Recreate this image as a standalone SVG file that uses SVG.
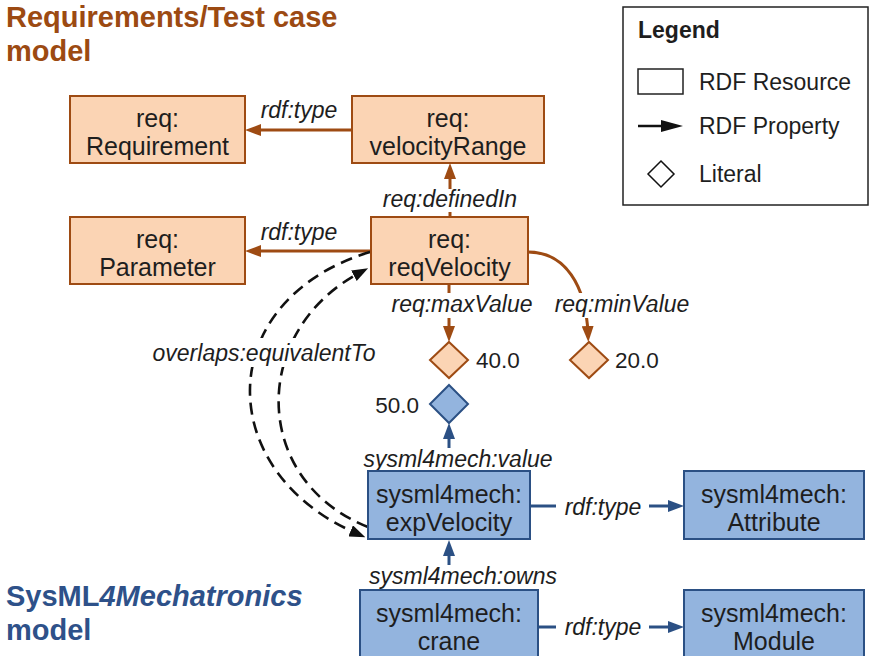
<svg xmlns="http://www.w3.org/2000/svg" width="870" height="656" viewBox="0 0 870 656">
<style>
text{font-family:"Liberation Sans",Arial,sans-serif;fill:#1e1e1e}
.nt{font-size:25px;text-anchor:middle}
.el{font-size:23px;font-style:italic;text-anchor:middle}
.lit{font-size:22.5px}
.ttl{font-size:29px;font-weight:bold}
.or{fill:#FBD4B4;stroke:#9E4B13;stroke-width:2}
.bl{fill:#93B4DE;stroke:#2B5084;stroke-width:2}
.oe{fill:none;stroke:#9E4B13;stroke-width:3}
.be{fill:none;stroke:#2B5084;stroke-width:3}
.de{fill:none;stroke:#111;stroke-width:2.6;stroke-dasharray:12 7}
.lg{font-size:23px}
</style>
<defs>
<marker id="ao" viewBox="0 0 16 12" markerWidth="16" markerHeight="12" refX="8" refY="6" orient="auto" markerUnits="userSpaceOnUse"><path d="M0,0 L16,6 L0,12 z" fill="#9E4B13"/></marker>
<marker id="ab" viewBox="0 0 16 12" markerWidth="16" markerHeight="12" refX="8" refY="6" orient="auto" markerUnits="userSpaceOnUse"><path d="M0,0 L16,6 L0,12 z" fill="#2B5084"/></marker>
<marker id="ak" viewBox="0 0 16 12" markerWidth="16" markerHeight="12" refX="8" refY="6" orient="auto" markerUnits="userSpaceOnUse"><path d="M0,0 L16,6 L0,12 z" fill="#111"/></marker>
<marker id="al" viewBox="0 0 22 12" markerWidth="22" markerHeight="12" refX="8" refY="6" orient="auto" markerUnits="userSpaceOnUse"><path d="M0,0 L22,6 L0,12 z" fill="#111"/></marker>
</defs>

<text class="ttl" x="6" y="27" style="fill:#9C4A12">Requirements/Test case</text>
<text class="ttl" x="6" y="61" style="fill:#9C4A12">model</text>
<text class="ttl" x="6" y="606" style="fill:#2E5189">SysML<tspan font-style="italic">4Mechatronics</tspan></text>
<text class="ttl" x="6" y="640" style="fill:#2E5189">model</text>

<g id="connectors">
<path class="oe" d="M352,130 L253,130" marker-end="url(#ao)"/>
<path class="oe" d="M371,251 L253,251" marker-end="url(#ao)"/>
<path class="oe" d="M450,217 L450,171" marker-end="url(#ao)"/>
<path class="oe" d="M449,284 L449,334" marker-end="url(#ao)"/>
<path class="oe" d="M528,252 C565,252 586,285 588,334" marker-end="url(#ao)"/>
<path class="be" d="M449,471 L449,431" marker-end="url(#ab)"/>
<path class="be" d="M449,590 L449,548" marker-end="url(#ab)"/>
<path class="be" d="M530,506 L556,506"/>
<path class="be" d="M649,506 L676,506" marker-end="url(#ab)"/>
<path class="be" d="M538,627 L556,627"/>
<path class="be" d="M649,627 L676,627" marker-end="url(#ab)"/>
<path class="de" d="M370,252 C212,300 212,472 358,534" marker-end="url(#ak)"/>
<path class="de" d="M368,527 C250,480 250,330 361,272" marker-end="url(#ak)"/>
<rect x="146" y="338" width="236" height="29" fill="#fff"/>
<rect x="378" y="189" width="144" height="23" fill="#fff"/>
<rect x="386" y="293" width="152" height="25" fill="#fff"/>
<rect x="550" y="293" width="146" height="25" fill="#fff"/>
<rect x="357" y="448" width="203" height="23" fill="#fff"/>
<rect x="364" y="565" width="200" height="24" fill="#fff"/>
<text class="el" x="299" y="118">rdf:type</text>
<text class="el" x="299" y="240">rdf:type</text>
<text class="el" x="450" y="207">req:definedIn</text>
<text class="el" x="462" y="312">req:maxValue</text>
<text class="el" x="622" y="312">req:minValue</text>
<text class="el" x="264" y="361">overlaps:equivalentTo</text>
<text class="el" x="458" y="467">sysml4mech:value</text>
<text class="el" x="603" y="515">rdf:type</text>
<text class="el" x="463" y="584">sysml4mech:owns</text>
<text class="el" x="603" y="635">rdf:type</text>
</g>

<g id="n-requirement"><rect class="or" x="70" y="96" width="175" height="67"/><text class="nt" x="157.5" y="127">req:</text><text class="nt" x="157.5" y="155">Requirement</text></g>
<g id="n-velocityRange"><rect class="or" x="352" y="96" width="192" height="67"/><text class="nt" x="448" y="127">req:</text><text class="nt" x="448" y="155">velocityRange</text></g>
<g id="n-parameter"><rect class="or" x="70" y="217" width="175" height="67"/><text class="nt" x="157.5" y="248">req:</text><text class="nt" x="157.5" y="276">Parameter</text></g>
<g id="n-reqVelocity"><rect class="or" x="371" y="217" width="157" height="67"/><text class="nt" x="449.5" y="248">req:</text><text class="nt" x="449.5" y="276">reqVelocity</text></g>
<g id="n-40"><polygon class="or" points="449,342 468,360 449,378 430,360"/><text class="lit" x="476" y="368">40.0</text></g>
<g id="n-20"><polygon class="or" points="589,342 608,360 589,378 570,360"/><text class="lit" x="615" y="368">20.0</text></g>
<g id="n-50"><polygon class="bl" points="449,385 468,404 449,423 430,404"/><text class="lit" x="419" y="413" text-anchor="end">50.0</text></g>
<g id="n-expVelocity"><rect class="bl" x="368" y="471" width="162" height="68"/><text class="nt" x="449" y="503">sysml4mech:</text><text class="nt" x="449" y="531">expVelocity</text></g>
<g id="n-attribute"><rect class="bl" x="684" y="471" width="180" height="68"/><text class="nt" x="774" y="503">sysml4mech:</text><text class="nt" x="774" y="531">Attribute</text></g>
<g id="n-crane"><rect class="bl" x="360" y="590" width="178" height="72"/><text class="nt" x="449" y="622">sysml4mech:</text><text class="nt" x="449" y="650">crane</text></g>
<g id="n-module"><rect class="bl" x="684" y="590" width="180" height="72"/><text class="nt" x="774" y="622">sysml4mech:</text><text class="nt" x="774" y="650">Module</text></g>

<g id="legend">
<rect x="623" y="7" width="245" height="198" fill="#fff" stroke="#222" stroke-width="1.5"/>
<text class="lg" x="638" y="38" font-weight="bold">Legend</text>
<rect x="638" y="69" width="45" height="25" fill="none" stroke="#222" stroke-width="1.5"/>
<text class="lg" x="699" y="90">RDF Resource</text>
<path d="M638,126 L669,126" stroke="#111" stroke-width="2.5" marker-end="url(#al)"/>
<text class="lg" x="699" y="134">RDF Property</text>
<polygon points="661,161 674,174 661,187 648,174" fill="#fff" stroke="#111" stroke-width="1.5"/>
<text class="lg" x="699" y="182">Literal</text>
</g>
</svg>
